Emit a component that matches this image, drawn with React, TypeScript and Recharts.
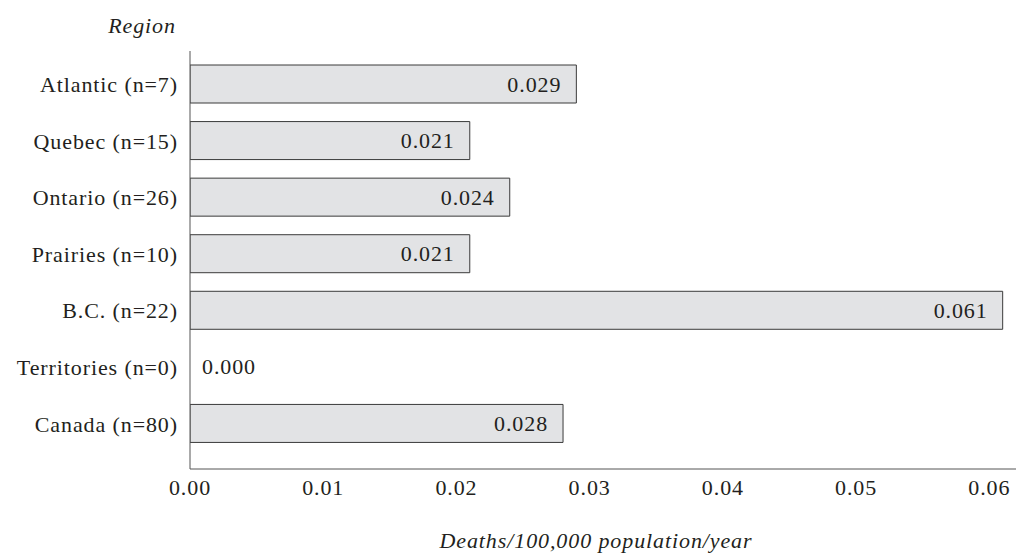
import React from "react";
import { BarChart, Bar, XAxis, YAxis, LabelList, Rectangle } from "recharts";

const regions = [
  "Atlantic (n=7)",
  "Quebec (n=15)",
  "Ontario (n=26)",
  "Prairies (n=10)",
  "B.C. (n=22)",
  "Territories (n=0)",
  "Canada (n=80)",
];
const deathRates = [0.029, 0.021, 0.024, 0.021, 0.061, 0.0, 0.028];
const xTicks = [0, 0.01, 0.02, 0.03, 0.04, 0.05, 0.06];

const data = regions.map((name, i) => ({ name, rate: deathRates[i] }));

const FONT = "'Liberation Serif', 'Times New Roman', serif";
const INK = "#231f20";
const textStyle = { fontFamily: FONT, fontSize: 22, letterSpacing: 0.9, fill: INK };

const ValueLabel = (props: any) => {
  const { x, y, width, height, value } = props;
  const zero = !value;
  return (
    <text
      x={zero ? x + 12 : x + width - 15}
      y={y + height / 2}
      textAnchor={zero ? "start" : "end"}
      dominantBaseline="central"
      style={textStyle}
    >
      {Number(value).toFixed(3)}
    </text>
  );
};

// zero rows keep a 1px slot (minPointSize) so the label shows, but no box is drawn
const RateBar = (props: any) => {
  if (!props.payload || !props.payload.rate) return <g />;
  return <Rectangle {...props} />;
};

const RegionTitle = (props: any) => {
  const { viewBox } = props;
  return (
    <text
      x={viewBox.x + viewBox.width - 48}
      y={viewBox.y - 26}
      textAnchor="middle"
      dominantBaseline="central"
      style={{ ...textStyle, fontStyle: "italic" }}
    >
      Region
    </text>
  );
};

const RateTitle = (props: any) => {
  const { viewBox } = props;
  return (
    <text
      x={viewBox.x + viewBox.width / 2 - 7}
      y={viewBox.y + 71}
      textAnchor="middle"
      dominantBaseline="central"
      style={{ ...textStyle, fontStyle: "italic" }}
    >
      Deaths/100,000 population/year
    </text>
  );
};

const App: React.FC = () => {
  return (
    <div>
      <style>{`body { margin: 0; }`}</style>
      <BarChart
        width={1016}
        height={554}
        data={data}
        layout="vertical"
        margin={{ top: 51, right: 0, left: 8, bottom: 0 }}
      >
        <XAxis
          type="number"
          dataKey="rate"
          domain={[0, 0.062]}
          ticks={xTicks}
          allowDataOverflow
          tickFormatter={(v: number) => v.toFixed(2)}
          height={85}
          tickLine={false}
          tickSize={0}
          tickMargin={10}
          axisLine={{ stroke: "#555" }}
          tick={textStyle}
          label={<RateTitle />}
        />
        <YAxis
          type="category"
          dataKey="name"
          width={182}
          padding={{ top: 5, bottom: 17 }}
          tickLine={false}
          tickSize={0}
          tickMargin={12}
          axisLine={{ stroke: "#555" }}
          tick={textStyle}
          interval={0}
          label={<RegionTitle />}
        />
        <Bar
          dataKey="rate"
          fill="#e2e3e5"
          stroke="#3a3a3a"
          strokeWidth={1}
          barSize={38}
          minPointSize={1}
          shape={<RateBar />}
          isAnimationActive={false}
        >
          <LabelList dataKey="rate" content={<ValueLabel />} />
        </Bar>
      </BarChart>
    </div>
  );
};

export default App;
